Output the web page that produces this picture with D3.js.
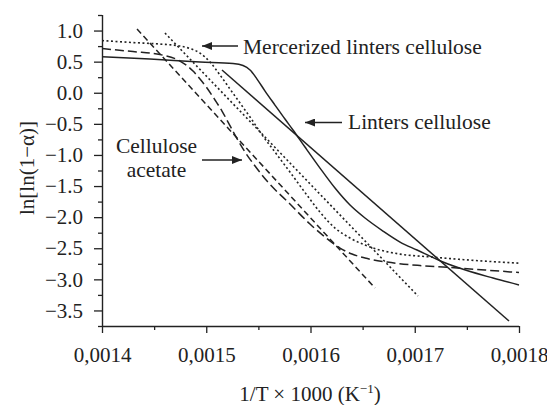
<!DOCTYPE html>
<html>
<head>
<meta charset="utf-8">
<script src="https://cdn.jsdelivr.net/npm/d3@7"></script>
<style>
  html, body { margin: 0; padding: 0; background: #fff; }
  svg { display: block; }
  text { font-family: "Liberation Serif", "Times New Roman", serif; fill: #222; }
</style>
</head>
<body>
<svg id="chart" width="547" height="405"></svg>
<script>
// ---- Data (x = 1/T, y = ln[ln(1-α)]) ----
const xTicks = [0.0014, 0.0015, 0.0016, 0.0017, 0.0018];
const xMinorTicks = [0.00145, 0.00155, 0.00165, 0.00175];
const yTicks = [1.0, 0.5, 0.0, -0.5, -1.0, -1.5, -2.0, -2.5, -3.0, -3.5];
const yMinorTicks = [1.25, 0.75, 0.25, -0.25, -0.75, -1.25, -1.75, -2.25, -2.75, -3.25, -3.75];

// Linters cellulose – experimental (solid)
const lintersX = [0.00140, 0.001446, 0.001494, 0.0015257, 0.0015353, 0.0015420, 0.0015487, 0.0015564, 0.0015659, 0.0015755, 0.0015832, 0.0015947, 0.0016091, 0.0016235, 0.0016379, 0.0016523, 0.0016695, 0.0016859, 0.0017022, 0.0017271, 0.0017501, 0.0017751, 0.00180];
const lintersY = [0.579, 0.542, 0.494, 0.469, 0.437, 0.365, 0.220, 0.027, -0.198, -0.423, -0.598, -0.873, -1.211, -1.532, -1.805, -2.014, -2.223, -2.400, -2.529, -2.722, -2.859, -2.979, -3.090];
// Linters cellulose – linear fit (solid)
const lintersFitX = [0.0015151, 0.0017904];
const lintersFitY = [0.365, -3.670];

// Cellulose acetate – experimental (long dash)
const acetateX = [0.00140, 0.0014297, 0.0014556, 0.0014748, 0.0014873, 0.0014940, 0.0015007, 0.0015084, 0.0015151, 0.0015209, 0.0015276, 0.0015372, 0.0015468, 0.0015583, 0.0015803, 0.0015995, 0.0016139, 0.0016283, 0.0016398, 0.0016523, 0.0016734, 0.0017050, 0.0017338, 0.0017674, 0.00180];
const acetateY = [0.711, 0.662, 0.614, 0.510, 0.349, 0.220, 0.076, -0.117, -0.294, -0.471, -0.680, -0.953, -1.178, -1.420, -1.789, -2.111, -2.320, -2.497, -2.593, -2.657, -2.722, -2.778, -2.810, -2.850, -2.891];
// Cellulose acetate – linear fit (short dash)
const acetateFitX = [0.0014336, 0.0016619];
const acetateFitY = [1.024, -3.140];

// Mercerized linters cellulose – experimental (dotted)
const mercX = [0.00140, 0.0014297, 0.0014556, 0.0014748, 0.0014844, 0.0014940, 0.0015036, 0.0015132, 0.0015228, 0.0015324, 0.0015420, 0.0015544, 0.0015659, 0.0015803, 0.0015966, 0.0016091, 0.0016235, 0.0016379, 0.0016523, 0.0016667, 0.0016859, 0.0017175, 0.0017530, 0.00180];
const mercY = [0.839, 0.807, 0.783, 0.751, 0.711, 0.638, 0.494, 0.285, 0.059, -0.166, -0.391, -0.697, -0.953, -1.275, -1.646, -1.920, -2.175, -2.336, -2.449, -2.529, -2.594, -2.643, -2.691, -2.740];
// Mercerized linters cellulose – linear fit (dotted)
const mercFitX = [0.0014604, 0.0017031];
const mercFitY = [0.960, -3.268];

// ---- Layout ----
const svg = d3.select("#chart");
const x = d3.scaleLinear().domain([0.0014, 0.0018]).range([102, 519]);
const y = d3.scaleLinear().domain([-3.75, 1.25]).range([326, 15]);
const ink = "#222";

const fmtX = v => d3.format(".4f")(v).replace(".", ",");
const fmtY = d3.format(".1f");

// X axis
const gx = svg.append("g").attr("transform", "translate(0,326)");
gx.call(d3.axisBottom(x).tickValues(xTicks).tickFormat(fmtX).tickSize(7).tickPadding(14));
const gxm = svg.append("g").attr("transform", "translate(0,326)");
gxm.call(d3.axisBottom(x).tickValues(xMinorTicks).tickFormat("").tickSize(4));
gxm.select(".domain").remove();

// Y axis
const gy = svg.append("g").attr("transform", "translate(102,0)");
gy.call(d3.axisLeft(y).tickValues(yTicks).tickFormat(fmtY).tickSize(8).tickPadding(11));
const gym = svg.append("g").attr("transform", "translate(102,0)");
gym.call(d3.axisLeft(y).tickValues(yMinorTicks).tickFormat("").tickSize(4));
gym.select(".domain").remove();

svg.selectAll(".domain").attr("stroke", ink).attr("stroke-width", 1.4);
svg.selectAll(".tick line").attr("stroke", ink).attr("stroke-width", 1.3);
svg.selectAll(".tick text")
  .style("font-family", '"Liberation Serif", "Times New Roman", serif')
  .style("font-size", "21px").attr("fill", ink);
gx.selectAll(".domain").attr("d", "M102,0.5H519");
gy.selectAll(".domain").attr("d", "M0.5,15V326");

// ---- Curves ----
const toPts = (xs, ys) => xs.map((v, i) => [v, ys[i]]);
const curveLine = d3.line().x(d => x(d[0])).y(d => y(d[1])).curve(d3.curveMonotoneX);
const straight = d3.line().x(d => x(d[0])).y(d => y(d[1]));

const series = [
  { pts: toPts(lintersX, lintersY), gen: curveLine, dash: null, w: 1.5 },
  { pts: toPts(lintersFitX, lintersFitY), gen: straight, dash: null, w: 1.5 },
  { pts: toPts(acetateX, acetateY), gen: curveLine, dash: "9,4", w: 1.5 },
  { pts: toPts(acetateFitX, acetateFitY), gen: straight, dash: "6,3.5", w: 1.5 },
  { pts: toPts(mercX, mercY), gen: curveLine, dash: "2,2.5", w: 1.6 },
  { pts: toPts(mercFitX, mercFitY), gen: straight, dash: "2,2.5", w: 1.6 }
];
svg.append("g").selectAll("path").data(series).join("path")
  .attr("d", d => d.gen(d.pts))
  .attr("fill", "none")
  .attr("stroke", ink)
  .attr("stroke-width", d => d.w)
  .attr("stroke-dasharray", d => d.dash);

// ---- Annotations ----
svg.append("defs").append("marker")
  .attr("id", "arr").attr("viewBox", "0 0 10 8").attr("refX", 10).attr("refY", 4)
  .attr("markerWidth", 10).attr("markerHeight", 8).attr("markerUnits", "userSpaceOnUse")
  .attr("orient", "auto")
  .append("path").attr("d", "M0,0L10,4L0,8Z").attr("fill", ink);

const arrows = [
  { x1: 238, y1: 46, x2: 202, y2: 46 },
  { x1: 342, y1: 122.5, x2: 305, y2: 122.5 },
  { x1: 202, y1: 160, x2: 242, y2: 160 }
];
svg.append("g").selectAll("line").data(arrows).join("line")
  .attr("x1", d => d.x1).attr("y1", d => d.y1).attr("x2", d => d.x2).attr("y2", d => d.y2)
  .attr("stroke", ink).attr("stroke-width", 1.4).attr("marker-end", "url(#arr)");

const labels = [
  { t: "Mercerized linters cellulose", x: 243, y: 54, a: "start" },
  { t: "Linters cellulose", x: 348, y: 129, a: "start" },
  { t: "Cellulose", x: 156.5, y: 153, a: "middle" },
  { t: "acetate", x: 156.5, y: 177, a: "middle" }
];
svg.append("g").selectAll("text").data(labels).join("text")
  .attr("x", d => d.x).attr("y", d => d.y).attr("text-anchor", d => d.a)
  .style("font-size", "21.5px").text(d => d.t);

// Axis titles
const xt = svg.append("text").attr("x", 310).attr("y", 401).attr("text-anchor", "middle")
  .style("font-size", "21px");
xt.append("tspan").text("1/T × 1000 (K");
xt.append("tspan").attr("dy", -8).style("font-size", "13px").text("−1");
xt.append("tspan").attr("dy", 8).text(")");

svg.append("text").attr("transform", "translate(34,168) rotate(-90)")
  .attr("text-anchor", "middle").style("font-size", "21px").text("ln[ln(1−α)]");
</script>
</body>
</html>
